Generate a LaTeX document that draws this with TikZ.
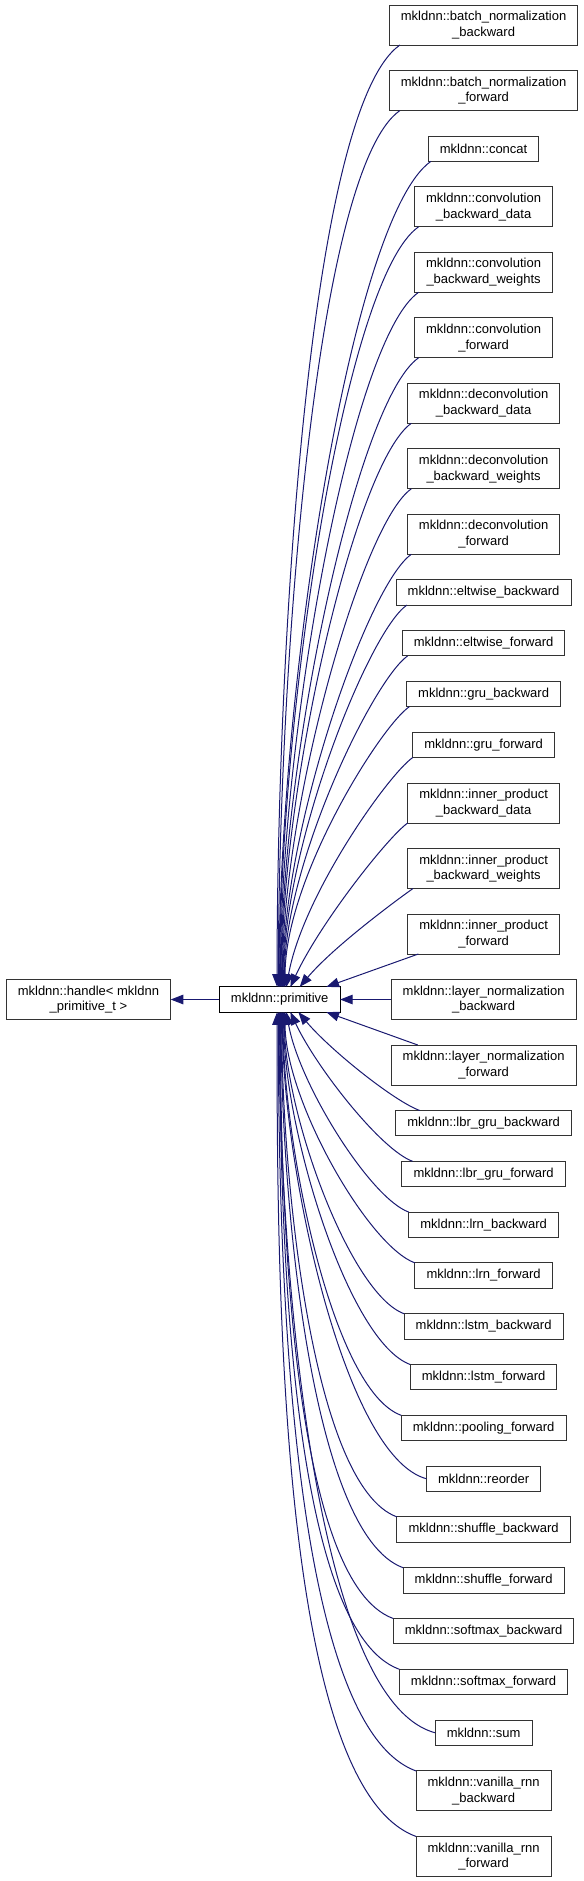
\documentclass[tikz,border=0pt]{standalone}
\usepackage{fontspec}
\setmainfont{Liberation Sans}
\usepackage{xcolor}
\usepackage{tikz}
\usetikzlibrary{arrows.meta,positioning}
\definecolor{edgeblue}{HTML}{191970}

\begin{document}
\begin{tikzpicture}[
    x=0.75pt, y=0.75pt,
    node distance=19.125pt,
    cls/.style={rectangle, draw=black!80, line width=0.75pt, fill=white, align=center, minimum height=18.975pt, inner xsep=8.7pt, inner ysep=0pt, outer sep=0pt, font=\fontsize{9.75}{11.75}\selectfont},
    cls2/.style={cls, minimum height=30pt},
    edge/.style={-{Triangle[length=9.5pt,width=7.2pt]}, draw=edgeblue, line width=0.75pt},
    up/.style={out=215, in=90, out looseness=0.3, in looseness=0.9},
    down/.style={out=160, in=270, out looseness=0.45, in looseness=0.8}
]
\useasboundingbox (0,0) rectangle (584,-1881);

% Derived classes, top to bottom
\node[cls2] (bn-bwd) at (483.6,-25) {mkldnn::batch\_normalization\\\_backward};
\node[cls2, below=of bn-bwd] (bn-fwd) {mkldnn::batch\_normalization\\\_forward};
\node[cls, below=of bn-fwd] (concat) {mkldnn::concat};
\node[cls2, below=of concat] (conv-bwd-data) {mkldnn::convolution\\\_backward\_data};
\node[cls2, below=of conv-bwd-data] (conv-bwd-wts) {mkldnn::convolution\\\_backward\_weights};
\node[cls2, below=of conv-bwd-wts] (conv-fwd) {mkldnn::convolution\\\_forward};
\node[cls2, below=of conv-fwd] (deconv-bwd-data) {mkldnn::deconvolution\\\_backward\_data};
\node[cls2, below=of deconv-bwd-data] (deconv-bwd-wts) {mkldnn::deconvolution\\\_backward\_weights};
\node[cls2, below=of deconv-bwd-wts] (deconv-fwd) {mkldnn::deconvolution\\\_forward};
\node[cls, below=of deconv-fwd] (eltwise-bwd) {mkldnn::eltwise\_backward};
\node[cls, below=of eltwise-bwd] (eltwise-fwd) {mkldnn::eltwise\_forward};
\node[cls, below=of eltwise-fwd] (gru-bwd) {mkldnn::gru\_backward};
\node[cls, below=of gru-bwd] (gru-fwd) {mkldnn::gru\_forward};
\node[cls2, below=of gru-fwd] (ip-bwd-data) {mkldnn::inner\_product\\\_backward\_data};
\node[cls2, below=of ip-bwd-data] (ip-bwd-wts) {mkldnn::inner\_product\\\_backward\_weights};
\node[cls2, below=of ip-bwd-wts] (ip-fwd) {mkldnn::inner\_product\\\_forward};
\node[cls2, below=of ip-fwd] (ln-bwd) {mkldnn::layer\_normalization\\\_backward};
\node[cls2, below=of ln-bwd] (ln-fwd) {mkldnn::layer\_normalization\\\_forward};
\node[cls, below=of ln-fwd] (lbr-gru-bwd) {mkldnn::lbr\_gru\_backward};
\node[cls, below=of lbr-gru-bwd] (lbr-gru-fwd) {mkldnn::lbr\_gru\_forward};
\node[cls, below=of lbr-gru-fwd] (lrn-bwd) {mkldnn::lrn\_backward};
\node[cls, below=of lrn-bwd] (lrn-fwd) {mkldnn::lrn\_forward};
\node[cls, below=of lrn-fwd] (lstm-bwd) {mkldnn::lstm\_backward};
\node[cls, below=of lstm-bwd] (lstm-fwd) {mkldnn::lstm\_forward};
\node[cls, below=of lstm-fwd] (pool-fwd) {mkldnn::pooling\_forward};
\node[cls, below=of pool-fwd] (reorder) {mkldnn::reorder};
\node[cls, below=of reorder] (shuffle-bwd) {mkldnn::shuffle\_backward};
\node[cls, below=of shuffle-bwd] (shuffle-fwd) {mkldnn::shuffle\_forward};
\node[cls, below=of shuffle-fwd] (softmax-bwd) {mkldnn::softmax\_backward};
\node[cls, below=of softmax-bwd] (softmax-fwd) {mkldnn::softmax\_forward};
\node[cls, below=of softmax-fwd] (sum) {mkldnn::sum};
\node[cls2, below=of sum] (rnn-bwd) {mkldnn::vanilla\_rnn\\\_backward};
\node[cls2, below=of rnn-bwd] (rnn-fwd) {mkldnn::vanilla\_rnn\\\_forward};

% Base classes
\node[cls, draw=black, left=38.25pt of ln-bwd] (prim) {mkldnn::primitive};
\node[cls2, left=36.5pt of prim] (handle) {mkldnn::handle< mkldnn\\\_primitive\_t >};

% Straight edges
\draw[edge] (prim) -- (handle);
\draw[edge] (ln-bwd) -- (prim);

% Edges from above
\draw[edge] ([xshift=8pt]bn-bwd.south west) to[up] ([xshift=-2pt]prim.north);
\draw[edge] ([xshift=8pt]bn-fwd.south west) to[up] ([xshift=-1pt]prim.north);
\draw[edge] ([xshift=2pt]concat.south west) to[up] ([xshift=-0.5pt]prim.north);
\draw[edge] ([xshift=3pt]conv-bwd-data.south west) to[up] ([xshift=0pt]prim.north);
\draw[edge] ([xshift=3pt]conv-bwd-wts.south west) to[up] ([xshift=0.5pt]prim.north);
\draw[edge] ([xshift=3pt]conv-fwd.south west) to[up] ([xshift=1pt]prim.north);
\draw[edge] ([xshift=3pt]deconv-bwd-data.south west) to[up] ([xshift=1.5pt]prim.north);
\draw[edge] ([xshift=3pt]deconv-bwd-wts.south west) to[up] ([xshift=2pt]prim.north);
\draw[edge] ([xshift=3pt]deconv-fwd.south west) to[up] ([xshift=2.5pt]prim.north);
\draw[edge] ([xshift=8pt]eltwise-bwd.south west) to[up] ([xshift=3pt]prim.north);
\draw[edge] ([xshift=4pt]eltwise-fwd.south west) to[up] ([xshift=3.5pt]prim.north);
\draw[edge] ([xshift=2pt]gru-bwd.south west) to[up] ([xshift=4pt]prim.north);
\draw[edge] (gru-fwd.south west) to[up, in=80] ([xshift=5pt]prim.north);
\draw[edge] (ip-bwd-data.south west) to[up, in=65] ([xshift=8pt]prim.north);
\draw[edge] ([xshift=4pt]ip-bwd-wts.south west) to[up, in=50] ([xshift=15pt]prim.north);
\draw[edge] ([xshift=8pt]ip-fwd.south west) -- ([xshift=35pt]prim.north);

% Edges from below
\draw[edge] ([xshift=20pt]ln-fwd.north west) -- ([xshift=35pt]prim.south);
\draw[edge] ([xshift=18pt]lbr-gru-bwd.north west) to[down, in=-50] ([xshift=14pt]prim.south);
\draw[edge] ([xshift=8pt]lbr-gru-fwd.north west) to[down, in=-65] ([xshift=8pt]prim.south);
\draw[edge] (lrn-bwd.north west) to[down, in=-80] ([xshift=5pt]prim.south);
\draw[edge] (lrn-fwd.north west) to[down] ([xshift=4pt]prim.south);
\draw[edge] (lstm-bwd.north west) to[down] ([xshift=3.5pt]prim.south);
\draw[edge] (lstm-fwd.north west) to[down] ([xshift=3pt]prim.south);
\draw[edge] (pool-fwd.north west) to[down] ([xshift=2.5pt]prim.south);
\draw[edge] (reorder.west) to[down, out=165] ([xshift=2pt]prim.south);
\draw[edge] (shuffle-bwd.north west) to[down] ([xshift=1.5pt]prim.south);
\draw[edge] (shuffle-fwd.north west) to[down] ([xshift=1pt]prim.south);
\draw[edge] (softmax-bwd.north west) to[down] ([xshift=0.5pt]prim.south);
\draw[edge] (softmax-fwd.north west) to[down] ([xshift=0pt]prim.south);
\draw[edge] (sum.west) to[down, out=165] ([xshift=-0.5pt]prim.south);
\draw[edge] (rnn-bwd.north west) to[down] ([xshift=-1pt]prim.south);
\draw[edge] (rnn-fwd.north west) to[down] ([xshift=-2pt]prim.south);

\end{tikzpicture}
\end{document}
